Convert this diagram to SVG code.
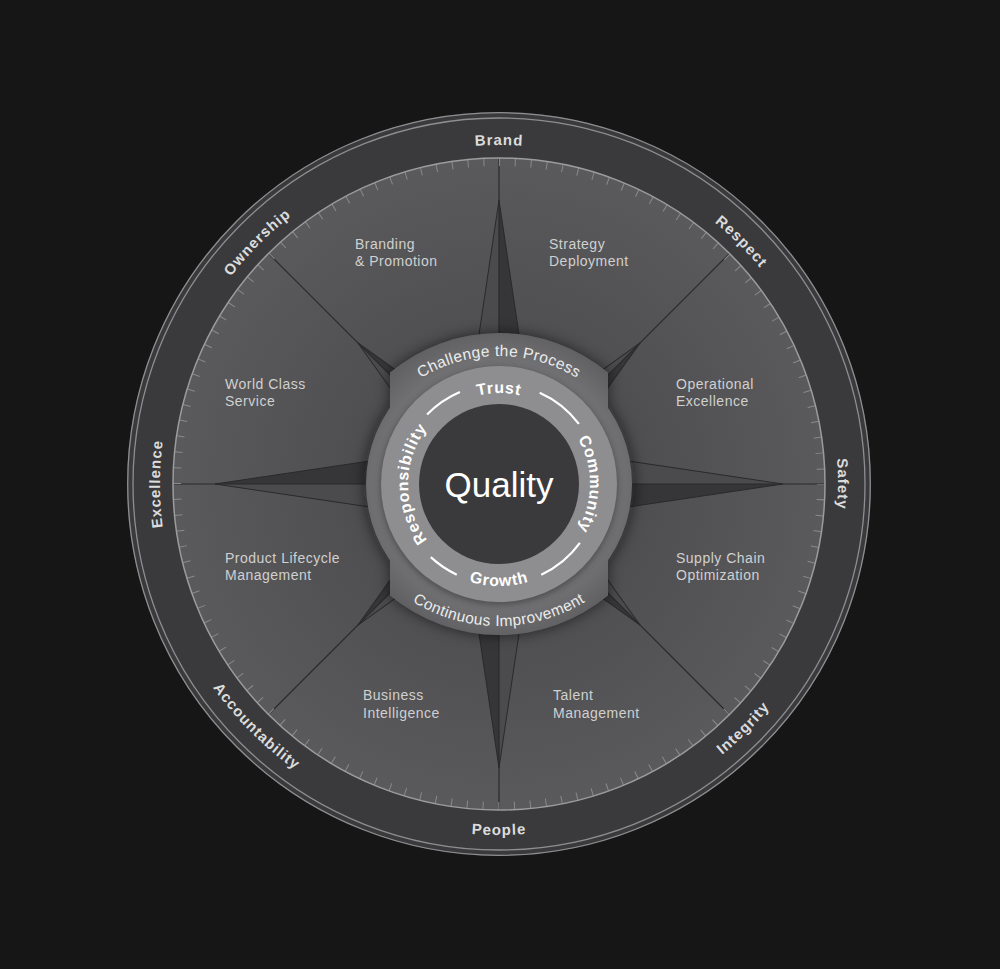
<svg xmlns="http://www.w3.org/2000/svg" xmlns:xlink="http://www.w3.org/1999/xlink" width="1000" height="969" viewBox="0 0 1000 969">
<style>
.lbl{font-family:"Liberation Sans",Arial,sans-serif;font-weight:bold;font-size:15px;letter-spacing:1px;fill:#dcdcdc}
.sec{font-family:"Liberation Sans",Arial,sans-serif;font-size:14px;letter-spacing:0.5px;fill:#d0d0d0}
.ring{font-family:"Liberation Sans",Arial,sans-serif;font-weight:bold;font-size:16px;letter-spacing:0.8px;fill:#ffffff}
.bdg{font-family:"Liberation Sans",Arial,sans-serif;font-size:15.5px;letter-spacing:0.4px;fill:#ececec}
.div{stroke:#2b2b2d;stroke-width:1.2;fill:none}
.edge{stroke:#2a2a2c;stroke-width:1;fill:none}
.dash{stroke:#ffffff;stroke-width:2.2;fill:none;stroke-linecap:butt}
</style>
<defs>
<radialGradient id="discG" gradientUnits="userSpaceOnUse" cx="499" cy="484" r="326">
<stop offset="0" stop-color="#454547"/>
<stop offset="0.5" stop-color="#505052"/>
<stop offset="1" stop-color="#5a5a5c"/>
</radialGradient>
<radialGradient id="badgeG" gradientUnits="userSpaceOnUse" cx="499" cy="484" r="155">
<stop offset="0" stop-color="#7a7a7c"/>
<stop offset="0.76" stop-color="#747476"/>
<stop offset="0.86" stop-color="#6c6c6e"/>
<stop offset="1" stop-color="#606062"/>
</radialGradient>
<filter id="blur" x="-30%" y="-30%" width="160%" height="160%"><feGaussianBlur stdDeviation="7"/></filter>
<filter id="blur2" x="-30%" y="-30%" width="160%" height="160%"><feGaussianBlur stdDeviation="3"/></filter>
<g id="mainPoint">
<polygon points="0,-284 36.77,-36.77 0,0" fill="#363638"/>
<polygon points="0,-284 -36.77,-36.77 0,0" fill="#4b4b4d"/>
<polyline class="edge" points="-36.77,-36.77 0,-284 36.77,-36.77"/>
</g>
<g id="diagPoint">
<polygon points="0,-200 28.28,-28.28 0,0" fill="#363638"/>
<polygon points="0,-200 -28.28,-28.28 0,0" fill="#4b4b4d"/>
<polyline class="edge" points="-28.28,-28.28 0,-200 28.28,-28.28"/>
</g>
<path id="outerCW" d="M499,823 A339,339 0 1 1 499,145 A339,339 0 1 1 499,823"/>
<path id="outerCCW" d="M499,133 A351,351 0 1 0 499,835 A351,351 0 1 0 499,133"/>
<path id="ringCW" d="M499,575 A91,91 0 1 1 499,393 A91,91 0 1 1 499,575"/>
<path id="ringCCW" d="M499,382 A102,102 0 1 0 499,586 A102,102 0 1 0 499,382"/>
<path id="topArc" d="M499,654 A149,149 0 1 1 499,356 A149,149 0 1 1 499,654"/>
<path id="botArc" d="M499,294 A166,166 0 1 0 499,626 A166,166 0 1 0 499,294"/>
</defs>
<rect width="1000" height="969" fill="#161616"/>
<g id="wheel">
<circle cx="499" cy="484" r="372" fill="#3a3a3c"/>
<circle cx="499" cy="484" r="371.3" fill="none" stroke="#8e8e90" stroke-width="1.3"/>
<circle cx="499" cy="484" r="366" fill="none" stroke="#8e8e90" stroke-width="1.3"/>
<circle cx="499" cy="484" r="326" fill="url(#discG)"/>
</g>
<g id="compass" transform="translate(499,484)">
<use xlink:href="#diagPoint" transform="rotate(45)"/>
<use xlink:href="#diagPoint" transform="rotate(135)"/>
<use xlink:href="#diagPoint" transform="rotate(225)"/>
<use xlink:href="#diagPoint" transform="rotate(315)"/>
<use xlink:href="#mainPoint"/>
<use xlink:href="#mainPoint" transform="rotate(90)"/>
<use xlink:href="#mainPoint" transform="rotate(180)"/>
<use xlink:href="#mainPoint" transform="rotate(270)"/>
</g>
<g id="connectors">
<line class="div" x1="499" y1="158" x2="499" y2="810"/>
<line class="div" x1="173" y1="484" x2="825" y2="484"/>
<line class="div" x1="268.5" y1="253.5" x2="729.5" y2="714.5"/>
<line class="div" x1="729.5" y1="253.5" x2="268.5" y2="714.5"/>
</g>
<g id="scale">
<circle cx="499" cy="484" r="322" fill="none" stroke="#8a8a8c" stroke-width="8" stroke-dasharray="1 14.806" stroke-dashoffset="0.5"/>
<circle cx="499" cy="484" r="326" fill="none" stroke="#9c9c9e" stroke-width="1.5"/>
</g>
<g id="badge">
<g filter="url(#blur)" opacity="0.55" fill="#111">
<path d="M390,372.54 A170,170 0 0 1 608,372.54 L608,595.46 A170,170 0 0 1 390,595.46 Z"/>
<circle cx="499" cy="484" r="135"/>
</g>
<g fill="url(#badgeG)">
<path d="M390,372.54 A170,170 0 0 1 608,372.54 L608,595.46 A170,170 0 0 1 390,595.46 Z"/>
<circle cx="499" cy="484" r="133"/>
</g>
<text class="bdg" text-anchor="middle"><textPath xlink:href="#topArc" startOffset="50%">Challenge the Process</textPath></text>
<text class="bdg" text-anchor="middle" letter-spacing="1"><textPath xlink:href="#botArc" startOffset="50%">Continuous Improvement</textPath></text>
</g>
<g id="values-ring">
<circle cx="499" cy="486" r="119" fill="#2a2a2a" opacity="0.5" filter="url(#blur2)"/>
<circle cx="499" cy="484" r="118" fill="#8e8e90"/>
<path class="dash" d="M539.67,392.65 A100,100 0 0 1 578.86,423.82"/>
<path class="dash" d="M579.90,542.78 A100,100 0 0 1 541.26,574.63"/>
<path class="dash" d="M456.74,574.63 A100,100 0 0 1 430.80,557.14"/>
<path class="dash" d="M427.07,414.53 A100,100 0 0 1 459.93,391.95"/>
<text class="ring" text-anchor="middle"><textPath xlink:href="#ringCW" startOffset="50%">Trust</textPath></text>
<text class="ring" text-anchor="middle"><textPath xlink:href="#ringCW" startOffset="75%">Community</textPath></text>
<text class="ring" text-anchor="middle"><textPath xlink:href="#ringCW" startOffset="25%">Responsibility</textPath></text>
<text class="ring" text-anchor="middle"><textPath xlink:href="#ringCCW" startOffset="50%">Growth</textPath></text>
</g>
<g id="quality">
<circle cx="499" cy="484" r="80" fill="#3a3a3c"/>
<text x="499" y="497" text-anchor="middle" font-family="Liberation Sans, Arial, sans-serif" font-size="35" fill="#ffffff">Quality</text>
</g>
<g id="label-brand"><text class="lbl" text-anchor="middle"><textPath xlink:href="#outerCW" startOffset="50%">Brand</textPath></text></g>
<g id="label-respect"><text class="lbl" text-anchor="middle"><textPath xlink:href="#outerCW" startOffset="62.5%">Respect</textPath></text></g>
<g id="label-safety"><text class="lbl" text-anchor="middle"><textPath xlink:href="#outerCW" startOffset="75%">Safety</textPath></text></g>
<g id="label-excellence"><text class="lbl" text-anchor="middle"><textPath xlink:href="#outerCW" startOffset="25%">Excellence</textPath></text></g>
<g id="label-ownership"><text class="lbl" text-anchor="middle"><textPath xlink:href="#outerCW" startOffset="37.5%">Ownership</textPath></text></g>
<g id="label-people"><text class="lbl" text-anchor="middle"><textPath xlink:href="#outerCCW" startOffset="50%">People</textPath></text></g>
<g id="label-accountability"><text class="lbl" text-anchor="middle"><textPath xlink:href="#outerCCW" startOffset="37.5%">Accountability</textPath></text></g>
<g id="label-integrity"><text class="lbl" text-anchor="middle"><textPath xlink:href="#outerCCW" startOffset="62.5%">Integrity</textPath></text></g>
<g id="sector-branding"><text class="sec" x="355" y="249">Branding<tspan x="355" y="266">&amp; Promotion</tspan></text></g>
<g id="sector-strategy"><text class="sec" x="549" y="249">Strategy<tspan x="549" y="266">Deployment</tspan></text></g>
<g id="sector-operational"><text class="sec" x="676" y="389">Operational<tspan x="676" y="406">Excellence</tspan></text></g>
<g id="sector-supply"><text class="sec" x="676" y="563">Supply Chain<tspan x="676" y="580">Optimization</tspan></text></g>
<g id="sector-talent"><text class="sec" x="553" y="700">Talent<tspan x="553" y="718">Management</tspan></text></g>
<g id="sector-business"><text class="sec" x="363" y="700">Business<tspan x="363" y="718">Intelligence</tspan></text></g>
<g id="sector-product"><text class="sec" x="225" y="563">Product Lifecycle<tspan x="225" y="580">Management</tspan></text></g>
<g id="sector-world"><text class="sec" x="225" y="389">World Class<tspan x="225" y="406">Service</tspan></text></g>
</svg>
